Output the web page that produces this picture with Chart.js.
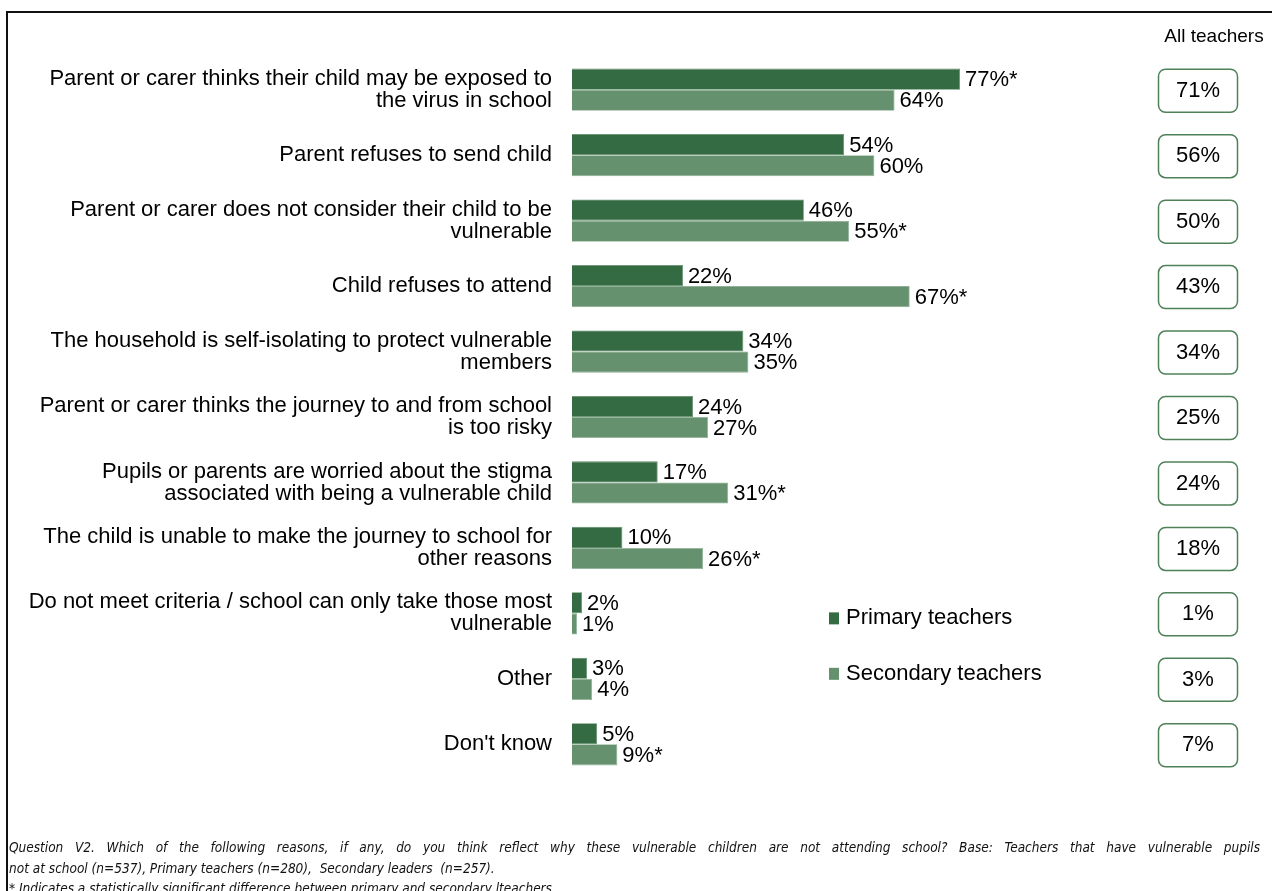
<!DOCTYPE html>
<html>
<head>
<meta charset="utf-8">
<script src="https://cdn.jsdelivr.net/npm/chart.js@4/dist/chart.umd.min.js"></script>
<style>
  body { margin: 0; background: #fff; }
  #wrap { position: relative; width: 1272px; height: 891px; overflow: hidden; }
  #frame { position: absolute; left: 6px; top: 11px; width: 1280px; height: 900px;
           border-top: 2px solid #111; border-left: 2px solid #111; }
  #note { position: absolute; left: 9px; top: 837px; width: 1251px;
          font-family: "Liberation Sans Narrow", "DejaVu Sans Condensed", Arial, sans-serif;
          font-style: italic; font-size: 13.5px; line-height: 20.5px; color: #111; }
  #note .just { text-align: justify; text-align-last: justify; }
  canvas { position: absolute; left: 0; top: 0; }
</style>
</head>
<body>
<div id="wrap">
  <div id="frame"></div>
  <canvas id="chart" width="1272" height="891"></canvas>
  <div id="note">
    <div class="just">Question V2. Which of the following reasons, if any, do you think reflect why these vulnerable children are not attending school? Base: Teachers that have vulnerable pupils</div>
    <div>not at school (n=537), Primary teachers (n=280),&nbsp; Secondary leaders&nbsp; (n=257).</div>
    <div>* Indicates a statistically significant difference between primary and secondary lteachers.</div>
  </div>
</div>
<script>
// categories (wrapped the same way as the original)
const kategori = [
  ['Parent or carer thinks their child may be exposed to', 'the virus in school'],
  'Parent refuses to send child',
  ['Parent or carer does not consider their child to be', 'vulnerable'],
  'Child refuses to attend',
  ['The household is self-isolating to protect vulnerable', 'members'],
  ['Parent or carer thinks the journey to and from school', 'is too risky'],
  ['Pupils or parents are worried about the stigma', 'associated with being a vulnerable child'],
  ['The child is unable to make the journey to school for', 'other reasons'],
  ['Do not meet criteria / school can only take those most', 'vulnerable'],
  'Other',
  "Don't know"
];
const primary   = [77, 54, 46, 22, 34, 24, 17, 10, 2, 3, 5];
const secondary = [64, 60, 55, 67, 35, 27, 31, 26, 1, 4, 9];
const primarySig   = [true, false, false, false, false, false, false, false, false, false, false];
const secondarySig = [false, false, true, true, false, false, true, true, false, false, true];
const allTeachers = [71, 56, 50, 43, 34, 25, 24, 18, 1, 3, 7];
const seriesNames = ['Primary teachers', 'Secondary teachers'];

const warnaTua = '#346b42';
const warnaMuda = '#66916e';
const FONT = 'Arial, "Liberation Sans", sans-serif';

// label angka di ujung batang
const labelBatang = {
  id: 'labelBatang',
  afterDatasetsDraw(chart) {
    const c = chart.ctx;
    c.save();
    c.font = '22px ' + FONT;
    c.fillStyle = '#000';
    c.textBaseline = 'middle';
    c.textAlign = 'left';
    const sig = [primarySig, secondarySig];
    chart.data.datasets.forEach((ds, di) => {
      chart.getDatasetMeta(di).data.forEach((bar, i) => {
        const txt = ds.data[i] + '%' + (sig[di][i] ? '*' : '');
        c.fillText(txt, bar.x + 5, bar.y + 1);
      });
    });
    c.restore();
  }
};

// kolom "All teachers" + legenda
const kolomKanan = {
  id: 'kolomKanan',
  afterDraw(chart) {
    const c = chart.ctx;
    const y = chart.scales.y;
    c.save();
    c.font = '19px ' + FONT;
    c.fillStyle = '#000';
    c.textAlign = 'center';
    c.textBaseline = 'middle';
    c.fillText('All teachers', 1214, 37);

    c.font = '22px ' + FONT;
    allTeachers.forEach((v, i) => {
      const cy = y.getPixelForValue(i) + 1;
      c.beginPath();
      c.roundRect(1158.5, cy - 21.5, 79, 43, 7);
      c.lineWidth = 1.5;
      c.strokeStyle = '#4f8159';
      c.stroke();
      c.fillStyle = '#000';
      c.fillText(v + '%', 1198, cy);
    });

    // legenda
    const warna = [warnaTua, warnaMuda];
    const ly = [y.getPixelForValue(8) + 5, y.getPixelForValue(9) - 5];
    c.textAlign = 'left';
    seriesNames.forEach((nm, i) => {
      c.fillStyle = warna[i];
      c.fillRect(829, ly[i] - 6, 10, 12);
      c.fillStyle = '#000';
      c.fillText(nm, 846, ly[i]);
    });
    c.restore();
  }
};

new Chart(document.getElementById('chart'), {
  type: 'bar',
  data: {
    labels: kategori,
    datasets: [
      { label: seriesNames[0], data: primary, backgroundColor: warnaTua,
        borderColor: '#5d8a67', borderWidth: 0.8 },
      { label: seriesNames[1], data: secondary, backgroundColor: warnaMuda,
        borderColor: '#8fb096', borderWidth: 0.8 }
    ]
  },
  options: {
    indexAxis: 'y',
    responsive: false,
    animation: false,
    layout: { padding: { top: 57, bottom: 114, left: 0, right: 196 } },
    datasets: { bar: { barPercentage: 1, categoryPercentage: 0.645 } },
    plugins: { legend: { display: false }, tooltip: { enabled: false } },
    scales: {
      x: { min: 0, max: 100, display: false },
      y: {
        grid: { display: false, drawTicks: false },
        border: { display: false },
        ticks: {
          color: '#000',
          padding: 20,
          font: { family: FONT, size: 22, lineHeight: 1.0 }
        },
        afterFit(scale) { scale.width = 572; }
      }
    }
  },
  plugins: [labelBatang, kolomKanan]
});
</script>
</body>
</html>
